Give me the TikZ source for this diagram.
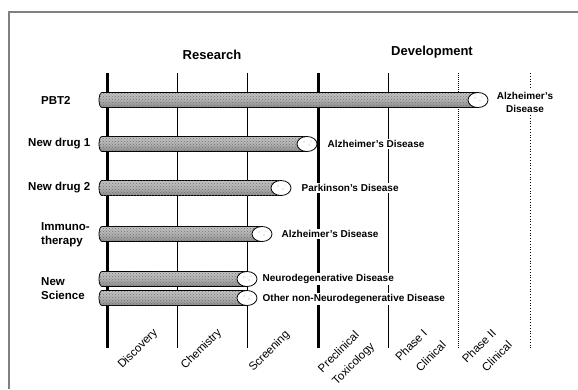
\documentclass[tikz,border=0pt]{standalone}
\usepackage{fontspec}
\usetikzlibrary{patterns}
\setmainfont{Liberation Sans}
\newcommand\cylbar[2]{% y, xend
  \path[barbody] (#2,#1-7.5) -- (102,#1-7.5) arc[start angle=270, end angle=90, x radius=3, y radius=7.5] -- (#2,#1+7.5) -- cycle;
  \path[pattern=crosshatch dots, pattern color=black!55] (#2,#1-7.5) -- (102,#1-7.5) arc[start angle=270, end angle=90, x radius=3, y radius=7.5] -- (#2,#1+7.5) -- cycle;
  \path[barcap] (#2,#1) ellipse[x radius=10, y radius=7.5];
  \fill[gray!70] (#2-3,#1-2) circle[radius=0.6] (#2+2,#1+1) circle[radius=0.6] (#2+4,#1-3) circle[radius=0.5];
}
\begin{document}
\begin{tikzpicture}[x=1pt,y=-1pt,
  rowlab/.style={font=\fontsize{11.5}{14}\selectfont\bfseries, inner sep=0pt, anchor=west},
  dislab/.style={font=\fontsize{10}{13}\selectfont\bfseries, fill=white, inner sep=1.5pt, anchor=west},
  axlab/.style={font=\fontsize{11.5}{12}\selectfont, rotate=45, anchor=east, inner sep=0pt},
  head/.style={font=\fontsize{13}{15}\selectfont\bfseries},
  barbody/.style={draw=black, line width=0.8pt, top color=gray!45, bottom color=gray!90, middle color=gray!60},
  barcap/.style={draw=black, line width=0.8pt, fill=white},
  thickaxis/.style={line width=3pt},
  thinaxis/.style={line width=0.8pt}
]
\useasboundingbox (0,0) rectangle (578,389);
\fill[white] (0,0) rectangle (578,389);
% frame
\draw[gray, line width=1.2pt] (9,389) -- (9,12) -- (578,12);

% headings
\node[head] (research) at (212,55) {Research};
\node[head] (devel) at (432,52) {Development};

% stage axes
\coordinate (a1t) at (107,73);  \coordinate (a1b) at (107,348);
\coordinate (a2t) at (177,73);  \coordinate (a2b) at (177,348);
\coordinate (a3t) at (247,73);  \coordinate (a3b) at (247,348);
\coordinate (a4t) at (318,73);  \coordinate (a4b) at (318,348);
\coordinate (a5t) at (388,73);  \coordinate (a5b) at (388,348);
\coordinate (a6t) at (458,73);  \coordinate (a6b) at (458,348);
\coordinate (a7t) at (530,73);  \coordinate (a7b) at (530,348);
\draw[thickaxis] (a1t) -- (a1b);
\draw[thinaxis] (a2t) -- (a2b);
\draw[thinaxis] (a3t) -- (a3b);
\draw[thickaxis] (a4t) -- (a4b);
\draw[thinaxis] (a5t) -- (a5b);
\draw[line width=1pt, densely dotted] (a6t) -- (a6b);
\draw[line width=0.8pt, dotted] (a7t) -- (a7b);

% bars
\cylbar{100}{478}
\cylbar{144}{307}
\cylbar{188}{281}
\cylbar{234}{262}
\cylbar{279}{247}
\cylbar{298}{247}

% row labels
\node[rowlab] (l1) at (41,100) {PBT2};
\node[rowlab] (l2) at (28,144) {New drug 1};
\node[rowlab] (l3) at (28,188) {New drug 2};
\node[rowlab, align=left] (l4) at (41,235) {Immuno-\\therapy};
\node[rowlab, align=left] (l5) at (41,289) {New\\Science};

% disease labels
\node[dislab, anchor=center, align=center] (d1) at (525,102) {Alzheimer's\\Disease};
\node[dislab] (d2) at (326,144) {Alzheimer's Disease};
\node[dislab] (d3) at (300,188) {Parkinson's Disease};
\node[dislab] (d4) at (280,234) {Alzheimer's Disease};
\node[dislab] (d5) at (261,279) {Neurodegenerative Disease};
\node[dislab] (d6) at (261,299) {Other non-Neurodegenerative Disease};

% axis labels
\node[axlab] (x1) at (156,331) {Discovery};
\node[axlab] (x2) at (220,331) {Chemistry};
\node[axlab] (x3) at (288,333) {Screening};
\node[axlab] (x4a) at (357,333) {Preclinical};
\node[axlab] (x4b) at (373,345) {Toxicology};
\node[axlab] (x5a) at (425,331) {Phase I};
\node[axlab] (x5b) at (444,343) {Clinical};
\node[axlab] (x6a) at (494,331) {Phase II};
\node[axlab] (x6b) at (510,343) {Clinical};
\end{tikzpicture}
\end{document}
